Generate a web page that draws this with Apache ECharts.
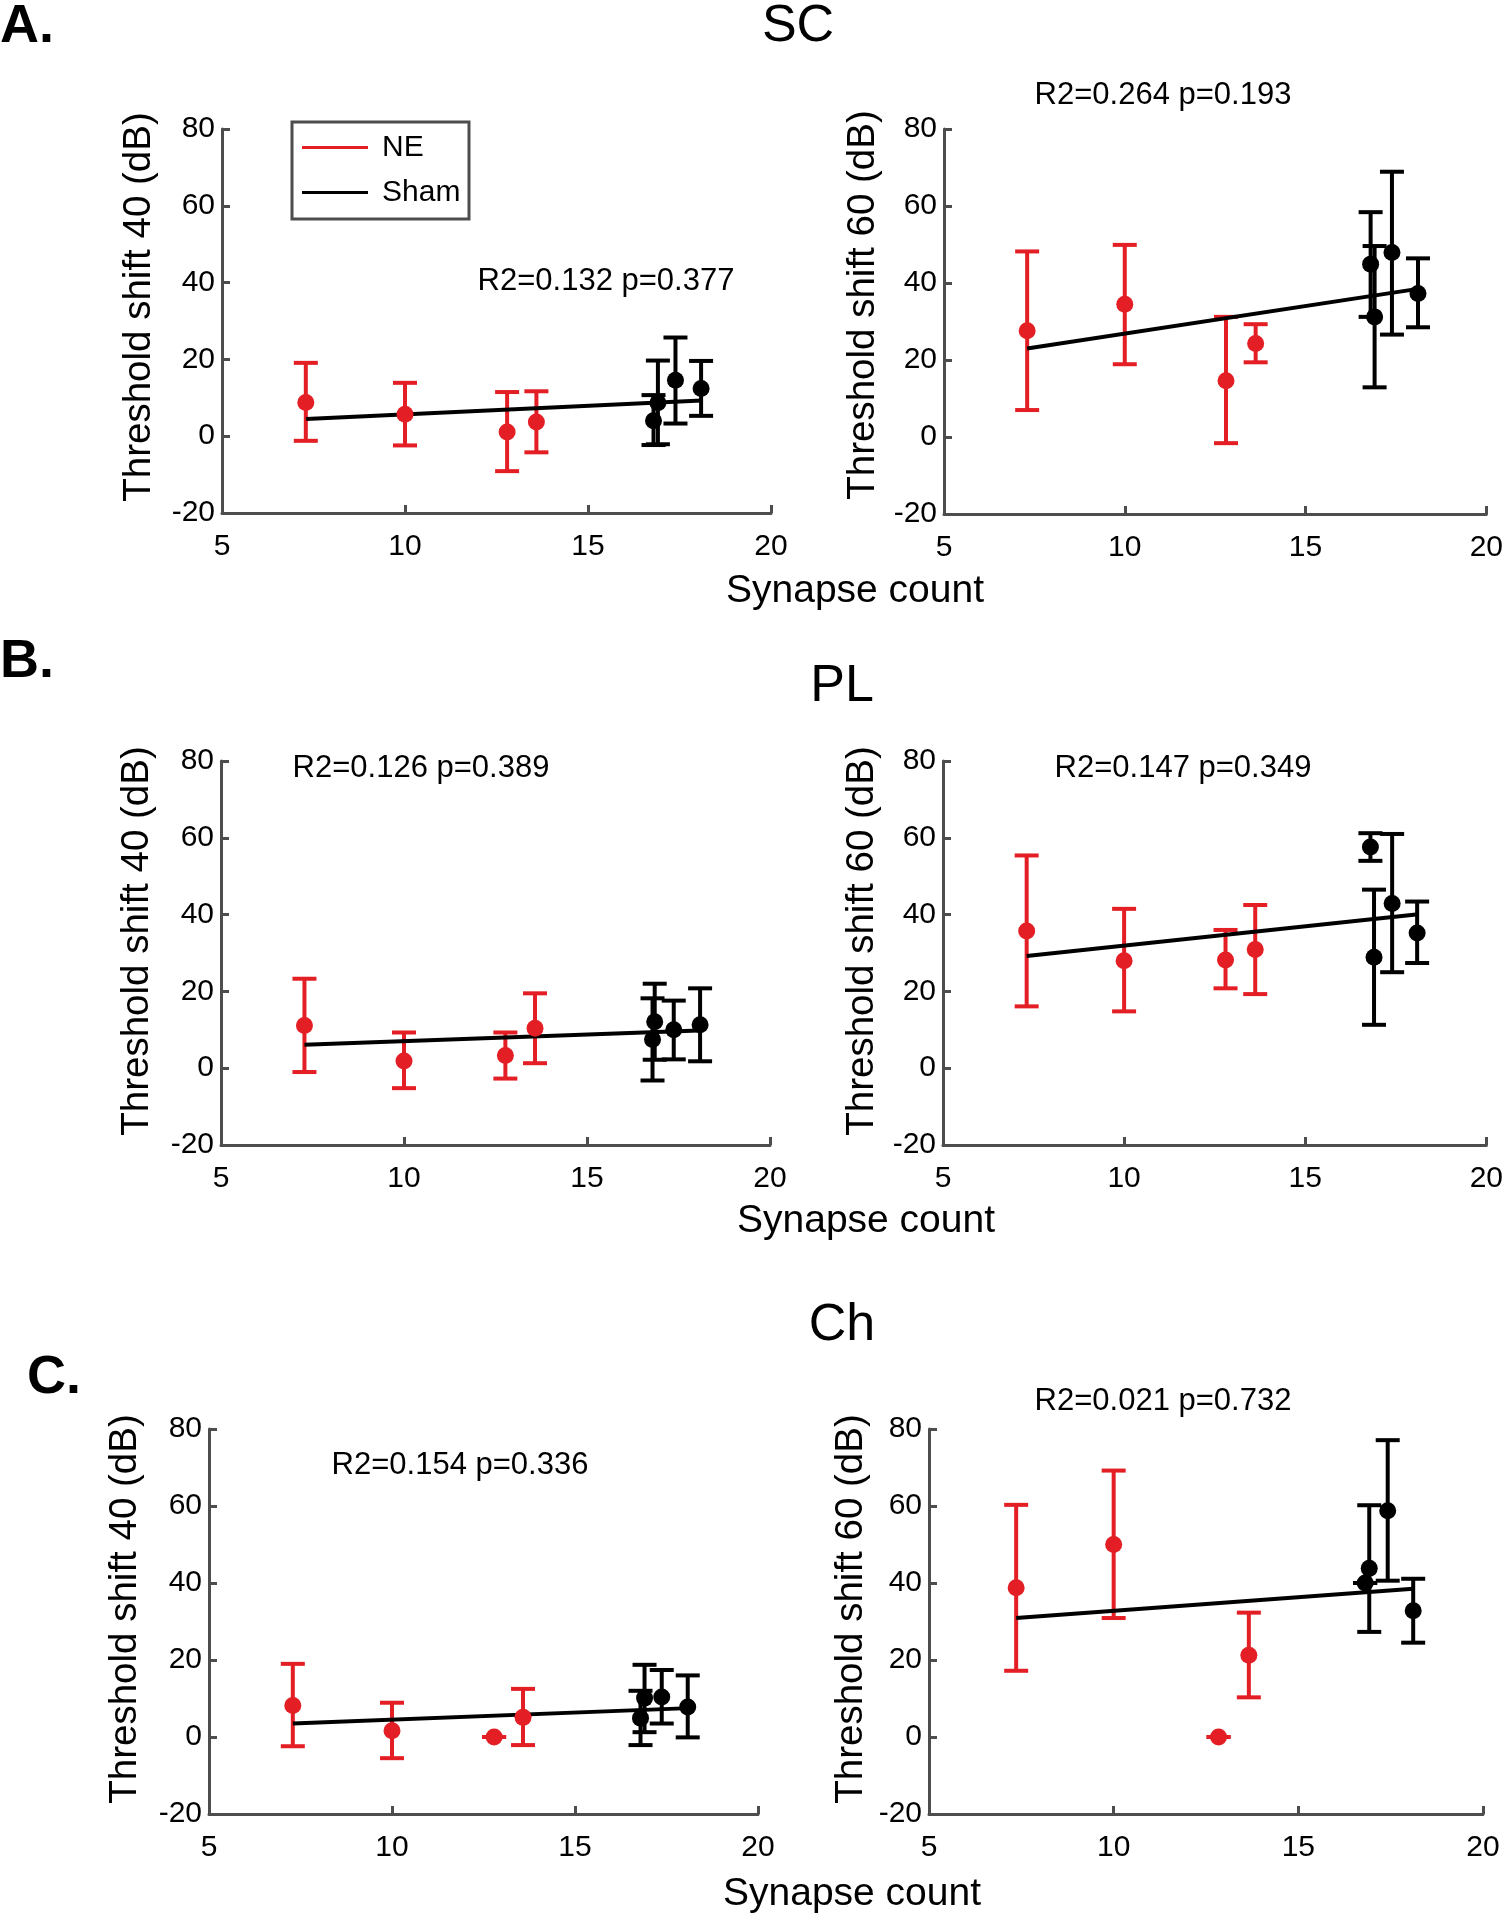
<!DOCTYPE html>
<html><head><meta charset="utf-8">
<script src="https://cdn.jsdelivr.net/npm/echarts/dist/echarts.min.js"></script>
<style>html,body{margin:0;padding:0;background:#fff}#c{width:1506px;height:1920px}</style>
</head><body><div id="c"></div><script>
// ---------- DATA ----------
const xTicks = [5, 10, 15, 20];
const yTicks = [-20, 0, 20, 40, 60, 80];
const seriesNames = ['NE', 'Sham'];

// SC, threshold shift 40
const sc40_neX = [7.29, 10.0, 12.79, 13.59];
const sc40_neY = [8.8, 5.7, 1.1, 3.7];
const sc40_neLo = [-1.2, -2.4, -9.1, -4.2];
const sc40_neHi = [19.1, 13.9, 11.5, 11.7];
const sc40_shX = [16.79, 16.91, 17.39, 18.09];
const sc40_shY = [4.0, 8.7, 14.6, 12.4];
const sc40_shLo = [-2.3, -2.1, 3.3, 5.3];
const sc40_shHi = [10.7, 19.7, 25.7, 19.6];
const sc40_fitX = [7.3, 18.1];
const sc40_fitY = [4.5, 9.3];
const sc40_stat = 'R2=0.132 p=0.377';

// SC, threshold shift 60
const sc60_neX = [7.30, 10.0, 12.80, 13.62];
const sc60_neY = [27.6, 34.5, 14.6, 24.3];
const sc60_neLo = [7.0, 18.9, -1.6, 19.4];
const sc60_neHi = [48.2, 49.9, 31.2, 29.3];
const sc60_shX = [16.80, 16.91, 17.39, 18.11];
const sc60_shY = [44.9, 31.2, 47.9, 37.3];
const sc60_shLo = [31.2, 12.9, 26.6, 28.5];
const sc60_shHi = [58.4, 49.6, 68.9, 46.4];
const sc60_fitX = [7.3, 18.2];
const sc60_fitY = [23.0, 38.6];
const sc60_stat = 'R2=0.264 p=0.193';

// PL, threshold shift 40
const pl40_neX = [7.28, 10.0, 12.77, 13.58];
const pl40_neY = [11.1, 1.9, 3.3, 10.4];
const pl40_neLo = [-1.0, -5.2, -2.7, 1.3];
const pl40_neHi = [23.3, 9.3, 9.3, 19.5];
const pl40_shX = [16.79, 16.85, 17.37, 18.09];
const pl40_shY = [7.5, 12.1, 10.0, 11.3];
const pl40_shLo = [-3.2, 2.2, 2.3, 1.8];
const pl40_shHi = [18.2, 22.0, 17.6, 20.8];
const pl40_fitX = [7.28, 18.05];
const pl40_fitY = [6.1, 9.8];
const pl40_stat = 'R2=0.126 p=0.389';

// PL, threshold shift 60
const pl60_neX = [7.31, 10.0, 12.80, 13.62];
const pl60_neY = [35.7, 28.0, 28.2, 30.9];
const pl60_neLo = [16.1, 14.8, 20.8, 19.3];
const pl60_neHi = [55.4, 41.5, 36.0, 42.5];
const pl60_shX = [16.80, 16.90, 17.40, 18.09];
const pl60_shY = [57.6, 28.9, 42.9, 35.2];
const pl60_shLo = [54.0, 11.3, 25.0, 27.4];
const pl60_shHi = [61.2, 46.5, 61.0, 43.4];
const pl60_fitX = [7.31, 18.06];
const pl60_fitY = [29.2, 40.0];
const pl60_stat = 'R2=0.147 p=0.349';

// Ch, threshold shift 40
const ch40_neX = [7.29, 10.0, 12.79, 13.58];
const ch40_neY = [8.2, 1.6, 0.0, 5.1];
const ch40_neLo = [-2.4, -5.5, 0.0, -2.1];
const ch40_neHi = [19.0, 8.9, 0.0, 12.5];
const ch40_shX = [16.79, 16.90, 17.37, 18.08];
const ch40_shY = [4.9, 10.1, 10.4, 7.8];
const ch40_shLo = [-2.1, 1.25, 3.5, -0.1];
const ch40_shHi = [12.0, 18.75, 17.4, 16.0];
const ch40_fitX = [7.29, 18.12];
const ch40_fitY = [3.5, 7.5];
const ch40_stat = 'R2=0.154 p=0.336';

// Ch, threshold shift 60
const ch60_neX = [7.36, 10.0, 12.84, 13.66];
const ch60_neY = [38.75, 50.0, 0.0, 21.25];
const ch60_neLo = [17.2, 30.9, 0.0, 10.3];
const ch60_neHi = [60.3, 69.2, 0.0, 32.3];
const ch60_shX = [16.81, 16.92, 17.42, 18.11];
const ch60_shY = [40.0, 43.8, 58.75, 32.8];
const ch60_shLo = [40.0, 27.3, 40.6, 24.5];
const ch60_shHi = [40.0, 60.2, 77.1, 41.1];
const ch60_fitX = [7.36, 18.11];
const ch60_fitY = [30.9, 38.5];
const ch60_stat = 'R2=0.021 p=0.732';

const groupTitles = ['SC', 'PL', 'Ch'];
const panelLetters = ['A.', 'B.', 'C.'];
const yTitles = ['Threshold shift 40 (dB)', 'Threshold shift 60 (dB)'];
const xTitle = 'Synapse count';

// ---------- LAYOUT ----------
const FONT = '"Liberation Sans", Arial, Helvetica, sans-serif';
const RED = '#e31e24';
const BLACK = '#000000';
const AXC = '#4d4d4d';

const panels = [
  {ne:[sc40_neX,sc40_neY,sc40_neLo,sc40_neHi], sh:[sc40_shX,sc40_shY,sc40_shLo,sc40_shHi], fit:[sc40_fitX,sc40_fitY], stat:sc40_stat, yt:yTitles[0],
   grid:{left:222,top:129,width:549,height:384}, statPos:[606,281], ytPos:[139,307]},
  {ne:[sc60_neX,sc60_neY,sc60_neLo,sc60_neHi], sh:[sc60_shX,sc60_shY,sc60_shLo,sc60_shHi], fit:[sc60_fitX,sc60_fitY], stat:sc60_stat, yt:yTitles[1],
   grid:{left:944,top:129,width:552,height:385}, statPos:[1163,95], ytPos:[863,305]},
  {ne:[pl40_neX,pl40_neY,pl40_neLo,pl40_neHi], sh:[pl40_shX,pl40_shY,pl40_shLo,pl40_shHi], fit:[pl40_fitX,pl40_fitY], stat:pl40_stat, yt:yTitles[0],
   grid:{left:221,top:761,width:549,height:384}, statPos:[421,768], ytPos:[137,941]},
  {ne:[pl60_neX,pl60_neY,pl60_neLo,pl60_neHi], sh:[pl60_shX,pl60_shY,pl60_shLo,pl60_shHi], fit:[pl60_fitX,pl60_fitY], stat:pl60_stat, yt:yTitles[1],
   grid:{left:943,top:761,width:552,height:384}, statPos:[1183,768], ytPos:[862,941]},
  {ne:[ch40_neX,ch40_neY,ch40_neLo,ch40_neHi], sh:[ch40_shX,ch40_shY,ch40_shLo,ch40_shHi], fit:[ch40_fitX,ch40_fitY], stat:ch40_stat, yt:yTitles[0],
   grid:{left:209,top:1429,width:549,height:385}, statPos:[460,1465], ytPos:[125,1609]},
  {ne:[ch60_neX,ch60_neY,ch60_neLo,ch60_neHi], sh:[ch60_shX,ch60_shY,ch60_shLo,ch60_shHi], fit:[ch60_fitX,ch60_fitY], stat:ch60_stat, yt:yTitles[1],
   grid:{left:929,top:1429,width:554,height:385}, statPos:[1163,1401], ytPos:[851,1609]}
];

function errRender(params, api) {
  const x = api.value(0), lo = api.value(1), hi = api.value(2);
  const pH = api.coord([x, hi]);
  const pL = api.coord([x, lo]);
  const w = 12;
  const st = {stroke: api.visual('color'), lineWidth: 4, lineCap: 'butt'};
  return {type: 'group', children: [
    {type: 'line', shape: {x1: pH[0], y1: pH[1], x2: pL[0], y2: pL[1]}, style: st},
    {type: 'line', shape: {x1: pH[0]-w, y1: pH[1], x2: pH[0]+w, y2: pH[1]}, style: st},
    {type: 'line', shape: {x1: pL[0]-w, y1: pL[1], x2: pL[0]+w, y2: pL[1]}, style: st}
  ]};
}

const grids = [], xAxes = [], yAxes = [], series = [], graphics = [];
panels.forEach((p, i) => {
  grids.push(p.grid);
  xAxes.push({type: 'value', gridIndex: i, min: xTicks[0], max: xTicks[xTicks.length-1], interval: 5,
    splitLine: {show: false},
    axisLine: {onZero: false, lineStyle: {color: AXC, width: 3}},
    axisTick: {inside: true, length: 8, lineStyle: {color: AXC, width: 3}},
    axisLabel: {color: '#000', fontSize: 30, fontFamily: FONT, margin: 19}});
  yAxes.push({type: 'value', gridIndex: i, min: yTicks[0], max: yTicks[yTicks.length-1], interval: 20,
    splitLine: {show: false},
    axisLine: {show: true, onZero: false, lineStyle: {color: AXC, width: 3}},
    axisTick: {show: true, inside: true, length: 8, lineStyle: {color: AXC, width: 3}},
    axisLabel: {color: '#000', fontSize: 30, fontFamily: FONT, margin: 7}});
  const groups = [[p.ne, RED, seriesNames[0]], [p.sh, BLACK, seriesNames[1]]];
  groups.forEach(([g, col, nm]) => {
    series.push({type: 'custom', name: nm, xAxisIndex: i, yAxisIndex: i, z: 2, silent: true,
      itemStyle: {color: col}, renderItem: errRender, encode: {x: 0, y: [1, 2]},
      data: g[0].map((x, j) => [x, g[2][j], g[3][j]])});
  });
  series.push({type: 'line', xAxisIndex: i, yAxisIndex: i, z: 3, symbol: 'none', silent: true,
    lineStyle: {color: BLACK, width: 4},
    data: p.fit[0].map((x, j) => [x, p.fit[1][j]])});
  groups.forEach(([g, col, nm]) => {
    series.push({type: 'scatter', name: nm, xAxisIndex: i, yAxisIndex: i, z: 4, symbol: 'circle', symbolSize: 17,
      itemStyle: {color: col, opacity: 1}, data: g[0].map((x, j) => [x, g[1][j]])});
  });
  graphics.push({type: 'text', x: p.statPos[0], y: p.statPos[1],
    style: {text: p.stat, font: '31px ' + FONT, fill: '#000', textAlign: 'center', textVerticalAlign: 'middle'}});
  graphics.push({type: 'text', x: p.ytPos[0], y: p.ytPos[1], rotation: Math.PI / 2,
    style: {text: p.yt, font: '38.5px ' + FONT, fill: '#000', textAlign: 'center', textVerticalAlign: 'middle'}});
});

// group titles, letters, x titles
const titlePos = [[798, 27], [842, 687], [842, 1326]];
const letterPos = [[0, 27], [0, 662], [27, 1378]];
const xTitlePos = [[855, 591], [866, 1221], [852, 1894]];
groupTitles.forEach((t, k) => {
  graphics.push({type: 'text', x: titlePos[k][0], y: titlePos[k][1],
    style: {text: t, font: '52px ' + FONT, fill: '#000', textAlign: 'center', textVerticalAlign: 'middle'}});
  graphics.push({type: 'text', x: letterPos[k][0], y: letterPos[k][1],
    style: {text: panelLetters[k], font: 'bold 54px ' + FONT, fill: '#000', textAlign: 'left', textVerticalAlign: 'middle'}});
  graphics.push({type: 'text', x: xTitlePos[k][0], y: xTitlePos[k][1],
    style: {text: xTitle, font: '39px ' + FONT, fill: '#000', textAlign: 'center', textVerticalAlign: 'middle'}});
});

// legend (panel A, left)
graphics.push({type: 'rect', shape: {x: 292, y: 122, width: 177, height: 97},
  style: {fill: '#fff', stroke: AXC, lineWidth: 3}, z: 10});
graphics.push({type: 'line', shape: {x1: 302, y1: 147.5, x2: 368, y2: 147.5}, style: {stroke: RED, lineWidth: 3}, z: 11});
graphics.push({type: 'line', shape: {x1: 302, y1: 192.5, x2: 368, y2: 192.5}, style: {stroke: BLACK, lineWidth: 3}, z: 11});
graphics.push({type: 'text', x: 382, y: 148, z: 11,
  style: {text: seriesNames[0], font: '30px ' + FONT, fill: '#000', textAlign: 'left', textVerticalAlign: 'middle'}});
graphics.push({type: 'text', x: 382, y: 193, z: 11,
  style: {text: seriesNames[1], font: '30px ' + FONT, fill: '#000', textAlign: 'left', textVerticalAlign: 'middle'}});

const chart = echarts.init(document.getElementById('c'), null, {renderer: 'canvas'});
chart.setOption({
  animation: false,
  backgroundColor: '#ffffff',
  grid: grids, xAxis: xAxes, yAxis: yAxes, series: series, graphic: graphics
});
</script></body></html>
